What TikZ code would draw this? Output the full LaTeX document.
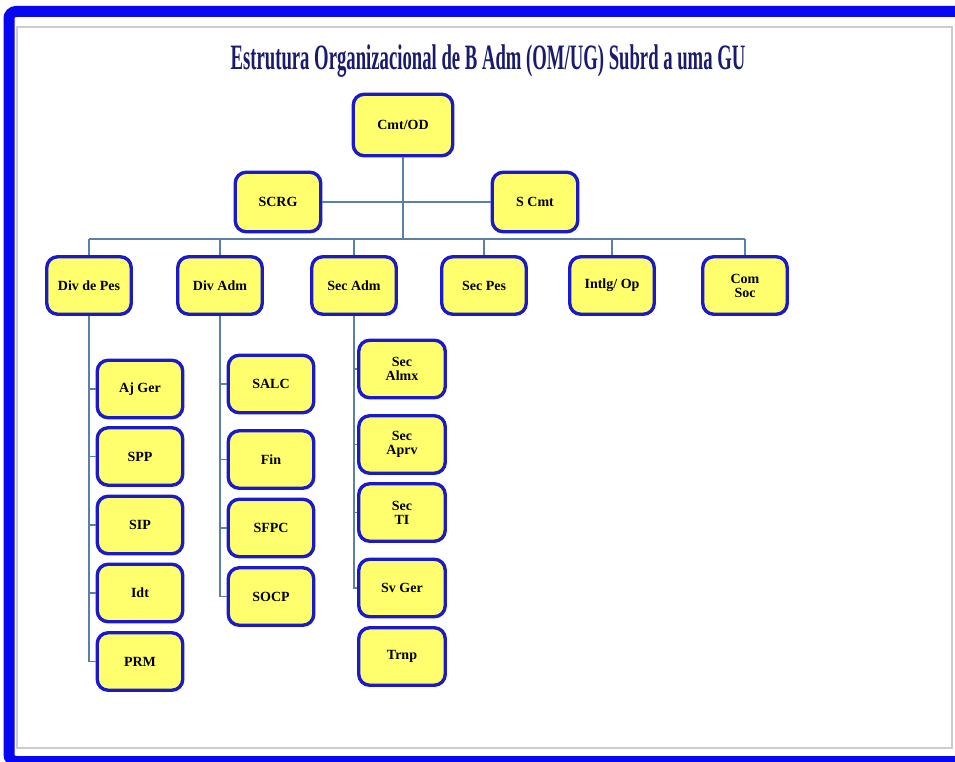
\documentclass[tikz,border=0pt]{standalone}
\usepackage{fontspec}
\setmainfont{Liberation Serif}
\usepackage{graphicx}
\definecolor{frameblue}{HTML}{0808F0}
\definecolor{boxblue}{HTML}{1A1AC8}
\definecolor{boxyellow}{HTML}{FFFF6E}
\definecolor{linecol}{HTML}{5B7FA6}
\definecolor{titlecol}{HTML}{1A1A6E}
\tikzset{
  orgbox/.style={draw=boxblue, fill=boxyellow, line width=3.4pt, rounded corners=11pt,
    align=center, inner sep=0pt, font=\bfseries\fontsize{14}{14}\selectfont},
  rowbox/.style={orgbox, minimum width=84.5pt, minimum height=57.5pt},
  subbox/.style={orgbox, minimum width=85.5pt, minimum height=57.5pt},
  conn/.style={draw=linecol, line width=1.8pt}
}
\begin{document}
\begin{tikzpicture}[x=1pt,y=-1pt]
\useasboundingbox (0,0) rectangle (955,762);
\begin{scope}
\clip (0,0) rectangle (955,762);
\draw[frameblue, line width=11pt, rounded corners=7pt] (9,11.5) rectangle (980,761.5);
\end{scope}
\draw[gray!40, line width=1.2pt] (17,27) rectangle (952,748);

\node[text=titlecol] (title) at (488,61)
  {\scalebox{0.55}[1.05]{\fontsize{34}{40}\selectfont\bfseries Estrutura Organizacional de B Adm (OM/UG) Subrd a uma GU}};

% top level
\node[orgbox, minimum width=99.5pt, minimum height=61.5pt] (cmt) at (403,125) {Cmt/OD};
\node[orgbox, minimum width=85.5pt, minimum height=59.5pt] (scrg) at (278,202) {SCRG};
\node[orgbox, minimum width=85.5pt, minimum height=59.5pt] (scmt) at (535,202) {S Cmt};

% second row
\node[rowbox] (divpes) at (89,285.5) {Div de Pes};
\node[rowbox] (divadm) at (220,285.5) {Div Adm};
\node[rowbox] (secadm) at (354,285.5) {Sec Adm};
\node[rowbox] (secpes) at (484,285.5) {Sec Pes};
\node[rowbox] (intlg) at (612,285.5) {Intlg/ Op};
\node[rowbox] (comsoc) at (745,285.5) {Com\\Soc};

% column 1
\node[subbox] (ajger) at (140,389) {Aj Ger};
\node[subbox] (spp) at (140,456.5) {SPP};
\node[subbox] (sip) at (140,525) {SIP};
\node[subbox] (idt) at (140,593) {Idt};
\node[subbox] (prm) at (140,661.5) {PRM};

% column 2
\node[subbox] (salc) at (271,384) {SALC};
\node[subbox] (fin) at (271,459.5) {Fin};
\node[subbox] (sfpc) at (271,528) {SFPC};
\node[subbox] (socp) at (271,596.5) {SOCP};

% column 3
\node[subbox, minimum width=86.5pt] (almx) at (402,369) {Sec\\Almx};
\node[subbox, minimum width=86.5pt] (aprv) at (402,444.5) {Sec\\Aprv};
\node[subbox, minimum width=86.5pt] (ti) at (402,512.5) {Sec\\TI};
\node[subbox, minimum width=86.5pt] (svger) at (402,588) {Sv Ger};
\node[subbox, minimum width=86.5pt] (trnp) at (402,656.5) {Trnp};

% connectors
\coordinate (bus) at (403,239);
\path[conn] (cmt.south) -- (cmt.south |- bus);
\path[conn] (scrg.east) -- (scmt.west);
\path[conn] (divpes.north |- bus) -- (comsoc.north |- bus);
\foreach \n in {divpes,divadm,secadm,secpes,intlg,comsoc}
  \path[conn] (\n.north) -- (\n.north |- bus);

\path[conn] (divpes.south) |- (prm.west);
\foreach \n in {ajger,spp,sip,idt}
  \path[conn] (\n.west) -- (\n.west -| divpes.south);

\path[conn] (divadm.south) |- (socp.west);
\foreach \n in {salc,fin,sfpc}
  \path[conn] (\n.west) -- (\n.west -| divadm.south);

\path[conn] (secadm.south) |- (svger.west);
\foreach \n in {almx,aprv,ti}
  \path[conn] (\n.west) -- (\n.west -| secadm.south);
\end{tikzpicture}
\end{document}
